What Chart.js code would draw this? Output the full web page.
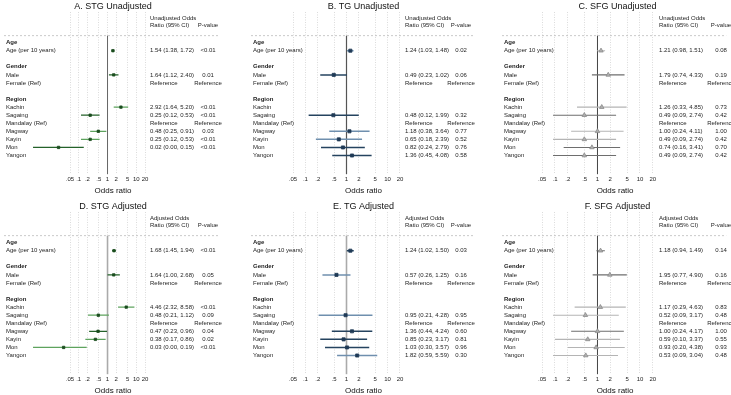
<!DOCTYPE html>
<html>
<head>
<meta charset="utf-8">
<script src="https://cdn.jsdelivr.net/npm/chart.js@4.4.0/dist/chart.umd.min.js"></script>
<style>
html, body { margin: 0; padding: 0; background: #fff; overflow: hidden; width: 731px; height: 395px; }
canvas { position: absolute; }
</style>
</head>
<body>
<canvas id="cA" width="243" height="200" style="left:0;top:0"></canvas>
<canvas id="cB" width="244" height="200" style="left:243px;top:0"></canvas>
<canvas id="cC" width="244" height="200" style="left:487px;top:0"></canvas>
<canvas id="cD" width="243" height="200" style="left:0;top:200px"></canvas>
<canvas id="cE" width="244" height="200" style="left:243px;top:200px"></canvas>
<canvas id="cF" width="244" height="200" style="left:487px;top:200px"></canvas>
<script>
// rows shared by every panel (headers are bold)
const rowLabels = ["Age", "Age (per 10 years)", "", "Gender", "Male", "Female (Ref)", "",
  "Region", "Kachin", "Sagaing", "Mandalay (Ref)", "Magway", "Kayin", "Mon", "Yangon"];
const headerRows = [0, 3, 7];
const tickVals = [0.05, 0.1, 0.2, 0.5, 1, 2, 5, 10, 20];
const tickLabels = [".05", ".1", ".2", ".5", "1", "2", "5", "10", "20"];

// A. STG unadjusted
const stgUnOR = [null, 1.54, null, null, 1.64, null, null, null, 2.92, 0.25, null, 0.48, 0.25, 0.02, null];
const stgUnLo = [null, 1.38, null, null, 1.12, null, null, null, 1.64, 0.12, null, 0.25, 0.12, 0.0026, null];
const stgUnHi = [null, 1.72, null, null, 2.40, null, null, null, 5.20, 0.53, null, 0.91, 0.53, 0.15, null];
const stgUnP = ["", "<0.01", "", "", "0.01", "Reference", "", "", "<0.01", "<0.01", "Reference", "0.03", "<0.01", "<0.01", ""];

// B. TG unadjusted
const tgUnOR = [null, 1.24, null, null, 0.49, null, null, null, null, 0.48, null, 1.18, 0.65, 0.82, 1.36];
const tgUnLo = [null, 1.03, null, null, 0.23, null, null, null, null, 0.12, null, 0.38, 0.18, 0.24, 0.45];
const tgUnHi = [null, 1.48, null, null, 1.02, null, null, null, null, 1.99, null, 3.64, 2.39, 2.79, 4.08];
const tgUnP = ["", "0.02", "", "", "0.06", "Reference", "", "", "", "0.32", "Reference", "0.77", "0.52", "0.76", "0.58"];

// C. SFG unadjusted
const sfgUnOR = [null, 1.21, null, null, 1.79, null, null, null, 1.26, 0.49, null, 1.00, 0.49, 0.74, 0.49];
const sfgUnLo = [null, 0.98, null, null, 0.74, null, null, null, 0.33, 0.09, null, 0.24, 0.09, 0.16, 0.09];
const sfgUnHi = [null, 1.51, null, null, 4.33, null, null, null, 4.85, 2.74, null, 4.11, 2.74, 3.41, 2.74];
const sfgUnP = ["", "0.08", "", "", "0.19", "Reference", "", "", "0.73", "0.42", "Reference", "1.00", "0.42", "0.70", "0.42"];

// D. STG adjusted
const stgAdOR = [null, 1.68, null, null, 1.64, null, null, null, 4.46, 0.48, null, 0.47, 0.38, 0.03, null];
const stgAdLo = [null, 1.45, null, null, 1.00, null, null, null, 2.32, 0.21, null, 0.23, 0.17, 0.0026, null];
const stgAdHi = [null, 1.94, null, null, 2.68, null, null, null, 8.58, 1.12, null, 0.96, 0.86, 0.19, null];
const stgAdP = ["", "<0.01", "", "", "0.05", "Reference", "", "", "<0.01", "0.09", "Reference", "0.04", "0.02", "<0.01", ""];

// E. TG adjusted
const tgAdOR = [null, 1.24, null, null, 0.57, null, null, null, null, 0.95, null, 1.36, 0.85, 1.03, 1.82];
const tgAdLo = [null, 1.02, null, null, 0.26, null, null, null, null, 0.21, null, 0.44, 0.23, 0.30, 0.59];
const tgAdHi = [null, 1.50, null, null, 1.25, null, null, null, null, 4.28, null, 4.24, 3.17, 3.57, 5.59];
const tgAdP = ["", "0.03", "", "", "0.16", "Reference", "", "", "", "0.95", "Reference", "0.60", "0.81", "0.96", "0.30"];

// F. SFG adjusted
const sfgAdOR = [null, 1.18, null, null, 1.95, null, null, null, 1.17, 0.52, null, 1.00, 0.59, 0.93, 0.53];
const sfgAdLo = [null, 0.94, null, null, 0.77, null, null, null, 0.29, 0.09, null, 0.24, 0.10, 0.20, 0.09];
const sfgAdHi = [null, 1.49, null, null, 4.90, null, null, null, 4.63, 3.17, null, 4.17, 3.37, 4.38, 3.04];
const sfgAdP = ["", "0.14", "", "", "0.16", "Reference", "", "", "0.83", "0.48", "Reference", "1.00", "0.55", "0.93", "0.48"];

const FONT = '"Liberation Sans", Arial, Helvetica, sans-serif';

// colour sets, light = 1 in the shade lists
const themes = {
  green: { dark: "#24622a", light: "#5ea35e", mark: "#1b4d1e", edge: "#1b4d1e", style: "rect", r: 1.7, lw: 1.2 },
  blue: { dark: "#25435f", light: "#6f8fae", mark: "#1f3a56", edge: "#1f3a56", style: "rect", r: 2.2, lw: 1.5 },
  gray: { dark: "#6e6e6e", light: "#b4b4b4", mark: "#b0b0b0", edge: "#8a8a8a", style: "triangle", r: 2.6, lw: 1.1 }
};

const panels = [
  { id: "cA", title: "A. STG Unadjusted", head: "Unadjusted Odds", or: stgUnOR, lo: stgUnLo, hi: stgUnHi, p: stgUnP,
    theme: "green", shade: [0,0,0,0,0,0,0,0,1,0,0,1,1,0,0], padL: 6, padR: 23, xmin: 3.0e-4, xmax: 8000,
    orX: 150, pX: 208, refColor: "#666", refW: 1 },
  { id: "cB", title: "B. TG Unadjusted", head: "Unadjusted Odds", or: tgUnOR, lo: tgUnLo, hi: tgUnHi, p: tgUnP,
    theme: "blue", shade: [0,1,0,0,0,0,0,0,0,0,0,1,1,0,0], padL: 10, padR: 13, xmin: 0.00532, xmax: 1262,
    orX: 162, pX: 218, refColor: "#555", refW: 1.2 },
  { id: "cC", title: "C. SFG Unadjusted", head: "Unadjusted Odds", or: sfgUnOR, lo: sfgUnLo, hi: sfgUnHi, p: sfgUnP,
    theme: "gray", shade: [0,1,0,0,0,0,0,0,1,0,0,1,1,0,0], padL: 17, padR: 0, xmin: 0.00632, xmax: 1067,
    orX: 172, pX: 234, refColor: "#444", refW: 1 },
  { id: "cD", title: "D. STG Adjusted", head: "Adjusted Odds", or: stgAdOR, lo: stgAdLo, hi: stgAdHi, p: stgAdP,
    theme: "green", shade: [0,0,0,0,0,0,0,0,1,1,0,0,1,1,0], padL: 6, padR: 23, xmin: 3.0e-4, xmax: 8000,
    orX: 150, pX: 208, refColor: "#aaa", refW: 1.6 },
  { id: "cE", title: "E. TG Adjusted", head: "Adjusted Odds", or: tgAdOR, lo: tgAdLo, hi: tgAdHi, p: tgAdP,
    theme: "blue", shade: [0,0,0,0,1,0,0,0,0,1,0,0,0,0,1], padL: 10, padR: 13, xmin: 0.00532, xmax: 1262,
    orX: 162, pX: 218, refColor: "#aaa", refW: 1.6 },
  { id: "cF", title: "F. SFG Adjusted", head: "Adjusted Odds", or: sfgAdOR, lo: sfgAdLo, hi: sfgAdHi, p: sfgAdP,
    theme: "gray", shade: [0,0,0,0,0,0,0,0,1,1,0,0,1,1,1], padL: 17, padR: 0, xmin: 0.00632, xmax: 1067,
    orX: 172, pX: 234, refColor: "#444", refW: 1 }
];

const fmt = v => v.toFixed(2);

// text columns, separator and the line at OR = 1
function tablePlugin(p) {
  return {
    id: "forestTable",
    beforeDatasetsDraw(chart) {
      const { ctx, chartArea: a, scales: { x, y } } = chart;
      const sepY = y.getPixelForValue(-0.86);
      ctx.save();
      ctx.strokeStyle = "#bdbdbd";
      ctx.lineWidth = 0.8;
      ctx.setLineDash([2, 2]);
      ctx.beginPath();
      ctx.moveTo(a.left - 2, sepY);
      ctx.lineTo(a.right, sepY);
      ctx.stroke();
      ctx.setLineDash([]);
      ctx.strokeStyle = p.refColor;
      ctx.lineWidth = p.refW;
      const x1 = x.getPixelForValue(1);
      ctx.beginPath();
      ctx.moveTo(x1, sepY);
      ctx.lineTo(x1, a.bottom);
      ctx.stroke();
      ctx.restore();
    },
    afterDatasetsDraw(chart) {
      const { ctx, chartArea: a, scales: { y } } = chart;
      ctx.save();
      ctx.fillStyle = "#1e1e1e";
      ctx.textBaseline = "middle";
      ctx.font = "6px " + FONT;
      ctx.textAlign = "left";
      ctx.fillText(p.head, p.orX, y.getPixelForValue(-3.07));
      ctx.fillText("Ratio (95% CI)", p.orX, y.getPixelForValue(-2.09));
      ctx.textAlign = "center";
      ctx.fillText("P-value", p.pX, y.getPixelForValue(-2.09));
      rowLabels.forEach((lab, i) => {
        const yy = y.getPixelForValue(i);
        const bold = headerRows.includes(i);
        ctx.font = (bold ? "bold " : "") + "6px " + FONT;
        ctx.textAlign = "left";
        ctx.fillText(lab, a.left, yy);
        ctx.font = "6px " + FONT;
        let ciText = "";
        if (p.or[i] !== null) ciText = fmt(p.or[i]) + " (" + fmt(p.lo[i]) + ", " + fmt(p.hi[i]) + ")";
        else if (p.p[i] === "Reference") ciText = "Reference";
        ctx.fillText(ciText, p.orX, yy);
        ctx.textAlign = "center";
        ctx.fillText(p.p[i], p.pX, yy);
      });
      ctx.restore();
    }
  };
}

function buildDatasets(p) {
  const th = themes[p.theme];
  const sets = [];
  const pts = [];
  p.or.forEach((v, i) => {
    if (v === null) return;
    pts.push({ x: v, y: i });
  });
  sets.push({
    type: "scatter", data: pts, order: 0,
    pointStyle: th.style, pointRadius: th.r, pointBackgroundColor: th.mark,
    pointBorderColor: th.edge, pointBorderWidth: 0.8
  });
  p.or.forEach((v, i) => {
    if (v === null) return;
    sets.push({
      type: "line", order: 1,
      data: [{ x: p.lo[i], y: i }, { x: p.hi[i], y: i }],
      borderColor: p.shade[i] ? th.light : th.dark,
      borderWidth: th.lw, pointRadius: 0
    });
  });
  return sets;
}

panels.forEach(p => {
  new Chart(document.getElementById(p.id), {
    data: { datasets: buildDatasets(p) },
    options: {
      responsive: false,
      animation: false,
      events: [],
      layout: { padding: { left: p.padL, right: p.padR, top: 0, bottom: 3 } },
      plugins: {
        legend: { display: false },
        tooltip: { enabled: false },
        title: {
          display: true, text: p.title, color: "#111", padding: { top: 1, bottom: 0 },
          font: { family: FONT, size: 9, weight: "normal", lineHeight: "11px" }
        }
      },
      scales: {
        x: {
          type: "logarithmic", min: p.xmin, max: p.xmax,
          afterBuildTicks: s => { s.ticks = tickVals.map(v => ({ value: v })); },
          ticks: {
            callback: (v, i) => tickLabels[i], autoSkip: false, maxRotation: 0,
            padding: 2, color: "#222", font: { family: FONT, size: 6 }
          },
          grid: { color: "#d2d2d2", lineWidth: 0.8, drawTicks: false },
          border: { display: false, dash: [1, 1.5] },
          title: {
            display: true, text: "Odds ratio", color: "#111",
            font: { family: FONT, size: 8 }, padding: { top: 1, bottom: 1 }
          }
        },
        y: { type: "linear", reverse: true, min: -3.8, max: 16.32, display: false }
      }
    },
    plugins: [tablePlugin(p)]
  });
});
</script>
</body>
</html>
